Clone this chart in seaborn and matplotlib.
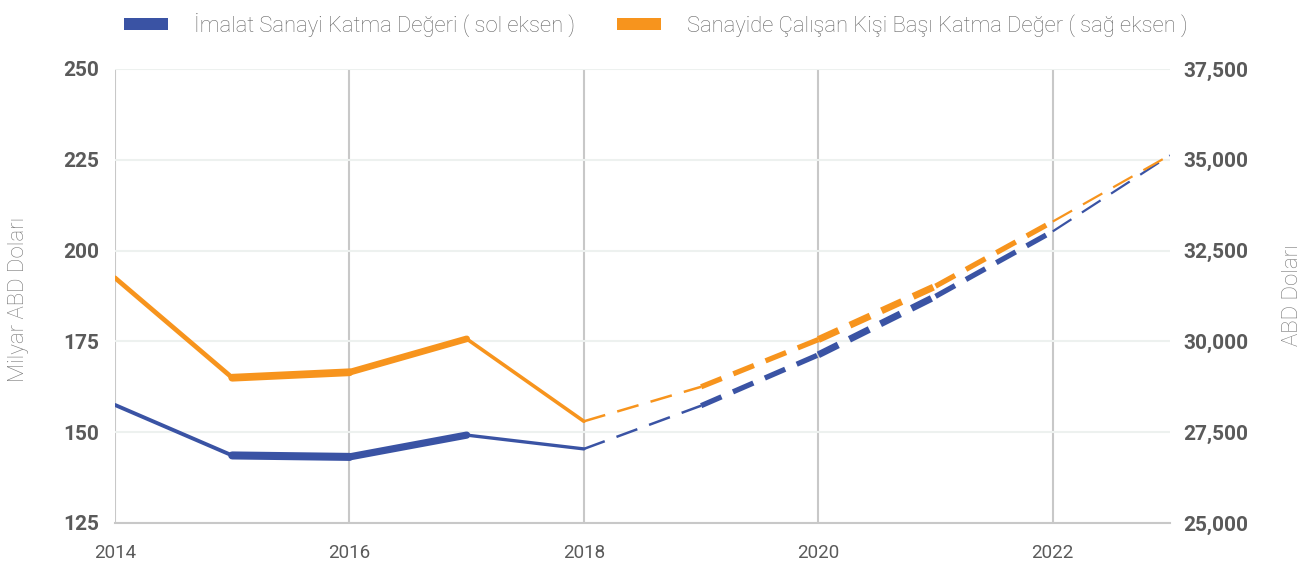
import matplotlib
matplotlib.use("Agg")
import matplotlib.pyplot as plt
import matplotlib.ticker as mticker
from matplotlib.patches import Patch
import pandas as pd
import seaborn as sns

# data
YEARS_ACTUAL = [2014, 2015, 2016, 2017, 2018]
YEARS_FORECAST = [2018, 2019, 2020, 2021, 2022, 2023]

MVA_ACTUAL = [157.5, 143.6, 143.2, 149.2, 145.4]  # milyar ABD doları (sol eksen)
MVA_FORECAST = [145.4, 157.3, 171.3, 187.4, 205.3, 226.2]

PER_WORKER_ACTUAL = [31750, 29000, 29150, 30070, 27800]  # ABD doları (sağ eksen)
PER_WORKER_FORECAST = [27800, 28750, 30050, 31520, 33300, 35130]

LEFT_TICKS = [125, 150, 175, 200, 225, 250]
RIGHT_TICKS = [25000, 27500, 30000, 32500, 35000, 37500]
X_TICKS = [2014, 2016, 2018, 2020, 2022]

LEGEND_LABELS = [
    "İmalat Sanayi Katma Değeri ( sol eksen )",
    "Sanayide Çalışan Kişi Başı Katma Değer ( sağ eksen )",
]
LEFT_LABEL = "Milyar ABD Doları"
RIGHT_LABEL = "ABD Doları"

# styling
BLUE = "#3a53a4"
ORANGE = "#f7941d"
TICK_COLOR = "#5a5a5a"
LABEL_COLOR = "#777777"

# line widths per segment (points), the reference uses a tapered ribbon
MVA_ACTUAL_LW = [2.8, 5.8, 5.2, 2.4]
MVA_FORECAST_LW = [1.8, 3.8, 5.0, 3.8, 1.6]
PW_ACTUAL_LW = [3.4, 5.6, 4.8, 2.6]
PW_FORECAST_LW = [1.8, 3.8, 5.0, 3.8, 1.6]


def draw_segments(ax, xs, ys, widths, color, dashed=False):
    for i, lw in enumerate(widths):
        seg = pd.DataFrame({"x": xs[i:i + 2], "y": ys[i:i + 2]})
        style = (0, (16 / lw, 9 / lw)) if dashed else "-"
        sns.lineplot(data=seg, x="x", y="y", ax=ax, color=color, linewidth=lw,
                     linestyle=style, solid_capstyle="round",
                     solid_joinstyle="round", legend=False)


sns.set_theme(style="white")
plt.rcParams["font.family"] = ["Roboto", "DejaVu Sans"]

fig = plt.figure(figsize=(13.12, 5.69), dpi=100)
fig.patch.set_facecolor("white")
ax = fig.add_axes([115 / 1312, 1 - 523 / 569, 1055 / 1312, 454 / 569])
ax2 = ax.twinx()

draw_segments(ax, YEARS_ACTUAL, MVA_ACTUAL, MVA_ACTUAL_LW, BLUE)
draw_segments(ax, YEARS_FORECAST, MVA_FORECAST, MVA_FORECAST_LW, BLUE, dashed=True)
draw_segments(ax2, YEARS_ACTUAL, PER_WORKER_ACTUAL, PW_ACTUAL_LW, ORANGE)
draw_segments(ax2, YEARS_FORECAST, PER_WORKER_FORECAST, PW_FORECAST_LW, ORANGE, dashed=True)

ax.set_xlim(2014, 2023)
ax.set_ylim(125, 250)
ax2.set_ylim(25000, 37500)

ax.set_xticks(X_TICKS)
ax.set_xticklabels([str(y) for y in X_TICKS])
ax.set_yticks(LEFT_TICKS)
ax2.set_yticks(RIGHT_TICKS)
ax2.yaxis.set_major_formatter(mticker.StrMethodFormatter("{x:,.0f}"))

for a in (ax, ax2):
    a.set_xlabel("")
    a.set_ylabel("")
    for s in a.spines.values():
        s.set_visible(False)

ax.spines["bottom"].set_visible(True)
ax.spines["bottom"].set_color("#c8c8c8")
ax.spines["bottom"].set_linewidth(1.5)

# grid: light horizontal lines, grey vertical lines on even years
ax.grid(axis="y", color="#edf1ef", linewidth=1.5)
ax.grid(axis="x", color="#c8c8c8", linewidth=1.5)
ax.set_axisbelow(True)

ax.tick_params(axis="y", length=0, pad=11.5, labelsize=15, labelcolor=TICK_COLOR)
ax.tick_params(axis="x", length=0, pad=15, labelsize=13.5, labelcolor=TICK_COLOR)
ax2.tick_params(axis="y", length=0, pad=9.5, labelsize=15, labelcolor=TICK_COLOR)
for lbl in ax.get_yticklabels() + ax2.get_yticklabels():
    lbl.set_fontweight("semibold")

fig.text(19 / 1312, 1 - 299 / 569, LEFT_LABEL, rotation=90, ha="center",
         va="center", fontsize=16, color=LABEL_COLOR, fontweight="light")
fig.text(1292 / 1312, 1 - 295 / 569, RIGHT_LABEL, rotation=90, ha="center",
         va="center", fontsize=16, color=LABEL_COLOR, fontweight="light")

handles = [Patch(facecolor=BLUE, linewidth=0), Patch(facecolor=ORANGE, linewidth=0)]
fig.legend(handles, LEGEND_LABELS, loc="upper center", bbox_to_anchor=(0.5, 1.012),
           ncol=2, frameon=False, labelcolor="#666666",
           handlelength=2.0, handleheight=0.45, handletextpad=1.2,
           columnspacing=1.9, prop={"weight": "light", "size": 15.8})

fig.savefig("out.png", dpi=100, facecolor="white")
